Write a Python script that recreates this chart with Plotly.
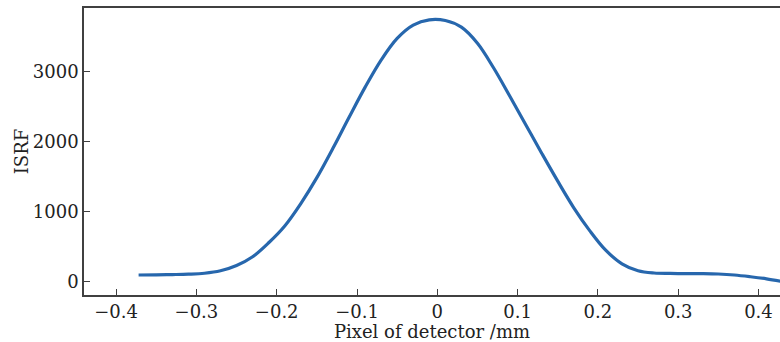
import plotly.graph_objects as go

# Pixel position on detector (mm)
pixel_mm = [-0.372, -0.35, -0.33, -0.31, -0.29, -0.27, -0.25, -0.23, -0.21, -0.19,
            -0.17, -0.15, -0.13, -0.11, -0.09, -0.07, -0.05, -0.03, -0.01, 0.01,
            0.03, 0.05, 0.07, 0.09, 0.11, 0.13, 0.15, 0.17, 0.19, 0.21,
            0.23, 0.25, 0.27, 0.29, 0.31, 0.33, 0.35, 0.37, 0.39, 0.41, 0.43]
# ISRF values
isrf = [100, 102, 106, 112, 125, 160, 235, 360, 560, 800,
        1120, 1490, 1910, 2350, 2780, 3170, 3480, 3670, 3745, 3735,
        3640, 3410, 3060, 2660, 2250, 1840, 1440, 1060, 730, 450,
        260, 160, 128, 122, 120, 119, 114, 100, 75, 45, 5]

x_ticks = [-0.4, -0.3, -0.2, -0.1, 0, 0.1, 0.2, 0.3, 0.4]
x_labels = ["\u22120.4", "\u22120.3", "\u22120.2", "\u22120.1", "0", "0.1", "0.2", "0.3", "0.4"]
y_ticks = [0, 1000, 2000, 3000]

FONT = "DejaVu Serif"
AX = "#404040"

fig = go.Figure()
fig.add_trace(go.Scatter(
    x=pixel_mm, y=isrf, mode="lines",
    line=dict(color="#2767ad", width=3.2, shape="spline", smoothing=1.0),
    showlegend=False, hoverinfo="skip"))

fig.update_layout(
    width=780, height=342,
    margin=dict(l=84, r=0, t=8, b=47),
    paper_bgcolor="white", plot_bgcolor="white",
    font=dict(family=FONT, size=18, color="#222222"),
    xaxis=dict(
        range=[-0.44, 0.4268], tickvals=x_ticks, ticktext=x_labels,
        ticks="inside", ticklen=6, tickwidth=1.3, tickcolor=AX,
        showline=True, linecolor=AX, linewidth=1.5, mirror=True,
        showgrid=False, zeroline=False,
        title=dict(text="Pixel of detector /mm", font=dict(family=FONT, size=18), standoff=0),
    ),
    yaxis=dict(
        range=[-186, 3914], tickvals=y_ticks,
        ticks="inside", ticklen=6, tickwidth=1.3, tickcolor=AX,
        showline=True, linecolor=AX, linewidth=1.5, mirror=False,
        showgrid=False, zeroline=False,
        title=dict(text="ISRF", font=dict(family=FONT, size=18), standoff=0),
    ),
)

fig.write_html("out.html")
